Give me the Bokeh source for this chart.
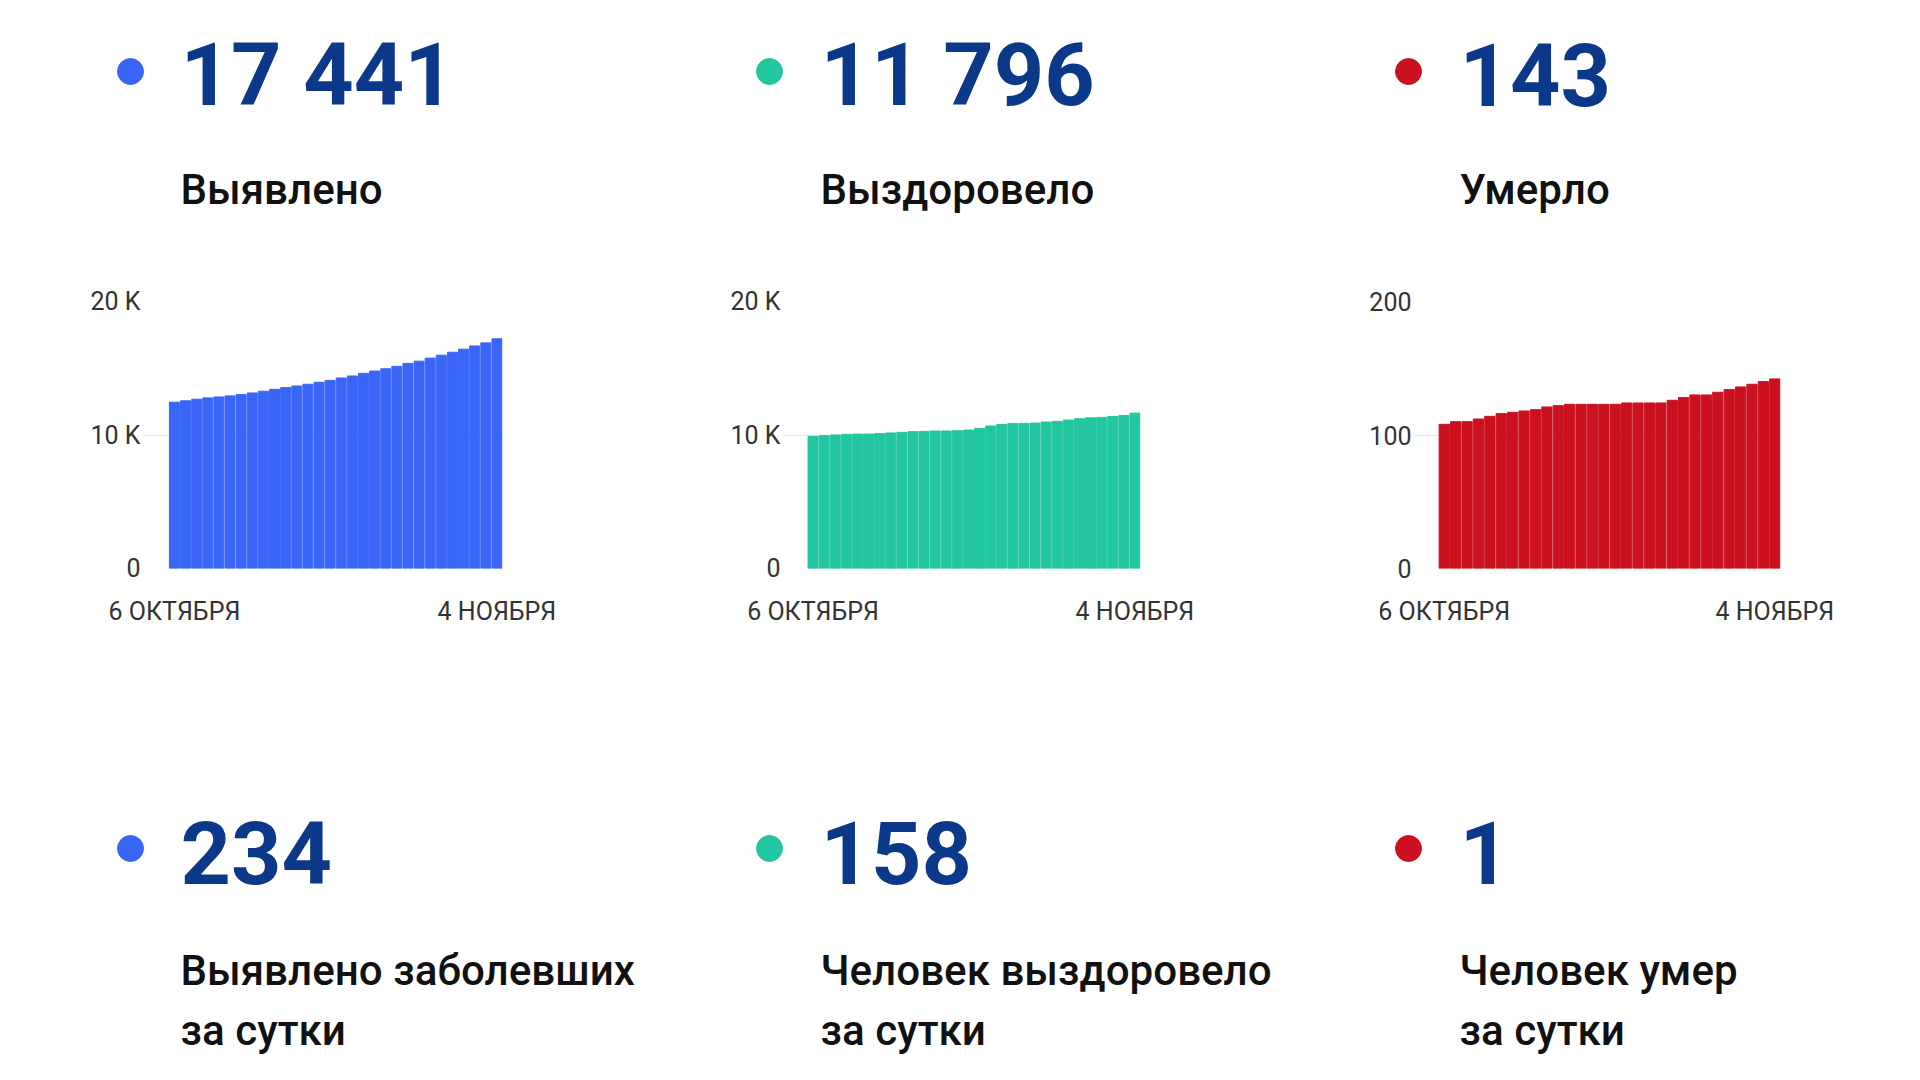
from bokeh.plotting import figure
from bokeh.layouts import column, row
from bokeh.models import Range1d, FixedTicker
from bokeh.core.properties import value
from bokeh.embed import file_html
from bokeh.resources import INLINE

# ---------------- data ----------------
dates = ["6 октября", "7 октября", "8 октября", "9 октября", "10 октября", "11 октября",
         "12 октября", "13 октября", "14 октября", "15 октября", "16 октября", "17 октября",
         "18 октября", "19 октября", "20 октября", "21 октября", "22 октября", "23 октября",
         "24 октября", "25 октября", "26 октября", "27 октября", "28 октября", "29 октября",
         "30 октября", "31 октября", "1 ноября", "2 ноября", "3 ноября", "4 ноября"]

detected = [12460, 12560, 12680, 12780, 12850, 12930, 13030, 13150, 13280, 13420,
            13550, 13670, 13800, 13950, 14090, 14270, 14420, 14620, 14790, 14960,
            15140, 15360, 15530, 15760, 15980, 16200, 16430, 16670, 16900, 17207]
recovered = [9900, 9950, 10000, 10050, 10070, 10070, 10100, 10150, 10200, 10250,
             10270, 10300, 10300, 10320, 10370, 10500, 10670, 10790, 10870, 10870,
             10890, 10970, 11020, 11120, 11220, 11290, 11320, 11390, 11460, 11638]
deaths = [108, 110, 110, 112, 114, 116, 117, 118, 119, 121,
          122, 123, 123, 123, 123, 123, 124, 124, 124, 124,
          126, 128, 130, 130, 132, 134, 136, 138, 140, 142]

totals = ["17 441", "11 796", "143"]
total_labels = ["Выявлено", "Выздоровело", "Умерло"]
daily = ["234", "158", "1"]
daily_labels_1 = ["Выявлено заболевших", "Человек выздоровело", "Человек умер"]
daily_labels_2 = ["за сутки", "за сутки", "за сутки"]

x_tick_labels = ["6 ОКТЯБРЯ", "4 НОЯБРЯ"]
y_ticks_k = [0, 10000, 20000]
y_tick_labels_k = ["0", "10 K", "20 K"]
y_ticks_d = [0, 100, 200]
y_tick_labels_d = ["0", "100", "200"]

colors = ["#3a66f7", "#22c6a0", "#cb101f"]
NUM_COLOR = "#0b3889"
FONT = "Roboto"
LABEL_FONT = "Roboto Medium, Roboto"

# ---------------- layout helpers ----------------
dot_x = [130, 769, 1408]
txt_x = [180, 820, 1459]
NUM_SIZE = 88
LBL_SIZE = 42
BASE_FIX = 0.335  # shift of bokeh's alphabetic baseline, in em
TOP_H = 281


def text_panel(height, y0, y1):
    p = figure(width=1920, height=height, x_range=Range1d(0, 1920), y_range=Range1d(y1, y0),
               x_axis_type=None, y_axis_type=None, toolbar_location=None,
               output_backend="svg", min_border=0, min_border_left=0, min_border_right=0,
               min_border_top=0, min_border_bottom=0, outline_line_color=None,
               background_fill_color="white", border_fill_color="white")
    return p


def put_text(p, baseline, texts, size, color, bold, font):
    p.text(x=txt_x, y=[baseline - BASE_FIX * size] * 3, text=texts, text_font=value(font),
           text_font_style="bold" if bold else "normal", text_font_size=f"{size}px",
           text_color=color, text_baseline="alphabetic", text_align="left")


top = text_panel(TOP_H, 0, TOP_H)
top.scatter(x=dot_x, y=[71] * 3, size=26, color=colors, marker="circle")
put_text(top, 103, totals, NUM_SIZE, NUM_COLOR, True, FONT)
put_text(top, 203, total_labels, LBL_SIZE, "#111111", False, LABEL_FONT)

bottom = text_panel(440, 640, 1080)
bottom.scatter(x=dot_x, y=[848] * 3, size=26, color=colors, marker="circle")
put_text(bottom, 881, daily, NUM_SIZE, NUM_COLOR, True, FONT)
put_text(bottom, 984, daily_labels_1, LBL_SIZE, "#111111", False, LABEL_FONT)
put_text(bottom, 1044, daily_labels_2, LBL_SIZE, "#111111", False, LABEL_FONT)


def bar_chart(vals, color, yticks, ylabels, frame_left, frame_width, pad):
    idx = list(range(len(dates)))
    p = figure(frame_width=frame_width, frame_height=267,
               x_range=Range1d(-0.5 - pad, len(dates) - 0.5),
               y_range=Range1d(yticks[0], yticks[-1]),
               toolbar_location=None, output_backend="svg",
               min_border_left=frame_left, min_border_right=640 - frame_left - frame_width,
               min_border_top=301 - TOP_H, min_border_bottom=72, outline_line_color=None,
               background_fill_color="white", border_fill_color="white")
    p.vbar(x=idx, top=vals, bottom=0, width=0.9, color=color)
    p.xgrid.visible = False
    p.ygrid.grid_line_color = "#ebebeb"
    p.ygrid.grid_line_width = 1.5
    p.yaxis.ticker = FixedTicker(ticks=yticks)
    p.yaxis.major_label_overrides = {t: l for t, l in zip(yticks, ylabels)}
    p.xaxis.ticker = FixedTicker(ticks=[idx[0], idx[-1]])
    p.xaxis.major_label_overrides = {idx[0]: x_tick_labels[0], idx[-1]: x_tick_labels[1]}
    for ax in (p.xaxis[0], p.yaxis[0]):
        ax.axis_line_color = None
        ax.major_tick_line_color = None
        ax.minor_tick_line_color = None
        ax.major_tick_out = 0
        ax.minor_tick_out = 0
        ax.major_label_text_font = FONT
        ax.major_label_text_font_size = "25px"
        ax.major_label_text_color = "#333333"
    p.yaxis.major_label_standoff = 2
    p.xaxis.major_label_standoff = 28
    return p


c1 = bar_chart(detected, colors[0], y_ticks_k, y_tick_labels_k, 142, 360, 2.37)
c2 = bar_chart(recovered, colors[1], y_ticks_k, y_tick_labels_k, 142, 358, 2.25)
c3 = bar_chart(deaths, colors[2], y_ticks_d, y_tick_labels_d, 133, 367, 2.2)

layout = column(top, row(c1, c2, c3, spacing=0), bottom, spacing=0)

open("out.html", "w").write(file_html(layout, INLINE))
